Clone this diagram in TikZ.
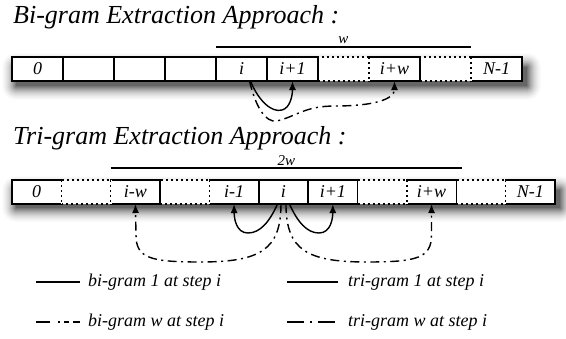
\documentclass[tikz,border=0pt]{standalone}
\usepackage{fontspec}
\setmainfont{Liberation Serif}
\usetikzlibrary{arrows.meta}
\begin{document}
\begin{tikzpicture}[x=1pt,y=-1pt,
 cellbase/.style={minimum height=24pt,inner sep=0pt,outer sep=0pt,anchor=north west,font=\itshape\fontsize{18}{18}\selectfont},
 bcell/.style={cellbase,minimum width=51pt},
 tcell/.style={cellbase,minimum width=49.36pt},
 solidc/.style={draw,fill=white,line width=1.4pt},
 dotc/.style={draw,fill=white,line width=1.3pt,dash pattern=on 2pt off 3pt},
 dotedge/.style={line width=1.3pt,dash pattern=on 2pt off 3pt},
 wipe/.style={white,line width=1.6pt},
 conn/.style={line width=1.4pt},
 dashdot/.style={line width=1.4pt,dash pattern=on 9pt off 4.5pt on 2pt off 4.5pt},
 tip/.style={-{Latex[length=9pt,width=7pt]}},
 title/.style={font=\itshape\fontsize{26}{26}\selectfont,anchor=base west,inner sep=0pt},
 small/.style={font=\itshape\fontsize{15}{15}\selectfont,inner sep=0pt},
 legend/.style={font=\itshape\fontsize{18}{18}\selectfont,anchor=west,inner sep=0pt},
 span/.style={line width=1.2pt},
]
\useasboundingbox (0,0) rectangle (566,338);

% ---------- shadows ----------
\foreach \k in {16,15,...,0}{
  \pgfmathtruncatemacro\c{60*(1-\k/17)*(1-\k/17)}
  \fill[black!\c,rounded corners=\k pt] (16-\k,67-\k) rectangle (527+\k,86+\k);
  \fill[black!\c,rounded corners=\k pt] (16-\k,190-\k) rectangle (560+\k,208+\k);
}

% ---------- Bi-gram ----------
\node[title] (btitle) at (13,23) {Bi-gram Extraction Approach :};
\node[bcell,dotc] (b6) at (318,57) {};
\node[bcell,dotc] (b8) at (420,57) {};
\node[bcell,solidc] (b0) at (12,57) {0};
\node[bcell,solidc] (b1) at (63,57) {};
\node[bcell,solidc] (b2) at (114,57) {};
\node[bcell,solidc] (b3) at (165,57) {};
\node[bcell,solidc] (b4) at (216,57) {i};
\node[bcell,solidc] (b5) at (267,57) {i+1};
\node[bcell,solidc] (b7) at (369,57) {i+w};
\node[bcell,solidc] (b9) at (471,57) {N-1};
\foreach \n in {b7,b9}{
  \draw[wipe] (\n.north west) -- (\n.south west);
  \draw[dotedge] (\n.north west) -- (\n.south west);
}
\draw[span] ([yshift=10pt]b4.north west) -- ([yshift=10pt]b8.north east)
  node[midway,above=3pt,small] {w};

\draw[conn,tip] ([xshift=9pt]b4.south) .. controls +(8,20) and +(-10,3) .. (282,110)
  .. controls +(8,-2) and +(0,15) .. (b5.south);
\draw[dashdot,tip] ([xshift=8pt]b4.south) .. controls +(6,25) and +(-12,2) .. (277,121)
  .. controls +(20,-5) and +(-30,0) .. (335,106)
  .. controls +(40,0) and +(0,18) .. (b7.south);

% ---------- Tri-gram ----------
\node[title] (ttitle) at (13,144) {Tri-gram Extraction Approach :};
\node[tcell,dotc] (t1) at (61.36,180) {};
\node[tcell,dotc] (t3) at (160.08,180) {};
\node[tcell,dotc] (t7) at (357.52,180) {};
\node[tcell,dotc] (t9) at (456.24,180) {};
\node[tcell,solidc] (t0) at (12,180) {0};
\node[tcell,solidc] (t2) at (110.72,180) {i-w};
\node[tcell,solidc] (t4) at (209.44,180) {i-1};
\node[tcell,solidc] (t5) at (258.8,180) {i};
\node[tcell,solidc] (t6) at (308.16,180) {i+1};
\node[tcell,solidc] (t8) at (406.88,180) {i+w};
\node[tcell,solidc] (t10) at (505.6,180) {N-1};
\draw[wipe] (t0.north east) -- (t0.south east);
\draw[dotedge] (t0.north east) -- (t0.south east);
\foreach \n in {t2,t4,t8,t10}{
  \draw[wipe] (\n.north west) -- (\n.south west);
  \draw[dotedge] (\n.north west) -- (\n.south west);
}
\draw[span] ([yshift=12pt]t2.north west) -- ([xshift=6pt,yshift=12pt]t8.north east)
  node[midway,above=2pt,small] {2w};

\draw[conn,tip] ([xshift=-6pt]t5.south) .. controls +(-8,18) and +(12,0) .. (248,233)
  .. controls +(-12,0) and +(0,14) .. (t4.south);
\draw[conn,tip] ([xshift=6pt]t5.south) .. controls +(8,18) and +(-12,0) .. (319,233)
  .. controls +(12,0) and +(0,14) .. (t6.south);
\draw[dashdot,tip] ([xshift=-2.5pt]t5.south) .. controls +(0,46) and +(60,0) .. (200,262)
  .. controls +(-50,0) and +(0,23) .. (136,235) -- (t2.south);
\draw[dashdot,tip] ([xshift=2.5pt]t5.south) .. controls +(0,46) and +(-60,0) .. (367,262)
  .. controls +(50,0) and +(0,23) .. (431.5,235) -- (t8.south);

% ---------- Legend ----------
\coordinate (l1a) at (36,282); \coordinate (l1b) at (80,282);
\coordinate (l2a) at (36,322); \coordinate (l2b) at (80,322);
\coordinate (l3a) at (287,282); \coordinate (l3b) at (338,282);
\coordinate (l4a) at (287,322); \coordinate (l4b) at (338,322);
\draw[conn] (l1a) -- (l1b);
\draw[conn,dash pattern=on 14pt off 8pt on 2pt off 4pt on 5pt off 4pt] (l2a) -- (l2b);
\draw[conn] (l3a) -- (l3b);
\draw[conn,dash pattern=on 17pt off 6pt on 2pt off 6pt] (l4a) -- (l4b);
\node[legend] (t1l) at (88,282) {bi-gram 1 at step i};
\node[legend] (t2l) at (88,322) {bi-gram w at step i};
\node[legend] (t3l) at (348,282) {tri-gram 1 at step i};
\node[legend] (t4l) at (348,322) {tri-gram w at step i};
\end{tikzpicture}
\end{document}
